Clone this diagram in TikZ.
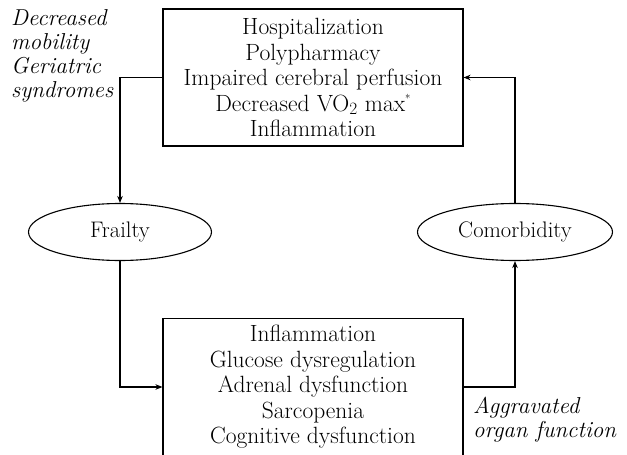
\documentclass[tikz,border=0pt]{standalone}
\usetikzlibrary{shapes.geometric,arrows.meta}
\begin{document}
\begin{tikzpicture}[x=1pt,y=-1pt,
   box/.style={draw,line width=1.1pt,minimum width=300pt,minimum height=137pt,
     inner sep=0pt,align=center,font=\fontsize{23.5}{25.5}\selectfont},
   oval/.style={draw,ellipse,line width=1.1pt,minimum height=57pt,inner sep=0pt,
     font=\fontsize{22.5}{25}\selectfont},
   note/.style={align=left,inner sep=0pt,font=\fontsize{23}{24}\selectfont\itshape},
   arr/.style={line width=1.1pt,-{Stealth[length=7pt,width=5.5pt]}}]
   \useasboundingbox (0,0) rectangle (627,455);
   \clip (0,0) rectangle (627,455);

   \node[box] (top) at (313,77.5) {Hospitalization\\Polypharmacy\\
     Impaired cerebral perfusion\\
     Decreased VO$_2$ max\raisebox{0.8ex}{\fontsize{11}{11}\selectfont *}\\
     Inflammation};
   \node[box] (bot) at (313,387) {Inflammation\\Glucose dysregulation\\
     Adrenal dysfunction\\Sarcopenia\\Cognitive dysfunction};

   \node[oval,minimum width=183pt] (frail) at (120,232) {Frailty};
   \node[oval,minimum width=195pt] (comor) at (515,232) {Comorbidity};

   \node[note,anchor=north west] (mob) at (11,9)
     {Decreased\\mobility\\Geriatric\\syndromes};
   \node[note,anchor=north west] (organ) at (473,397)
     {Aggravated\\organ function};

   \draw[arr] (top.west) -| (frail.north);
   \draw[arr] (frail.south) |- (bot.west);
   \draw[arr] (bot.east) -| (comor.south);
   \draw[arr] (comor.north) |- (top.east);
\end{tikzpicture}
\end{document}
